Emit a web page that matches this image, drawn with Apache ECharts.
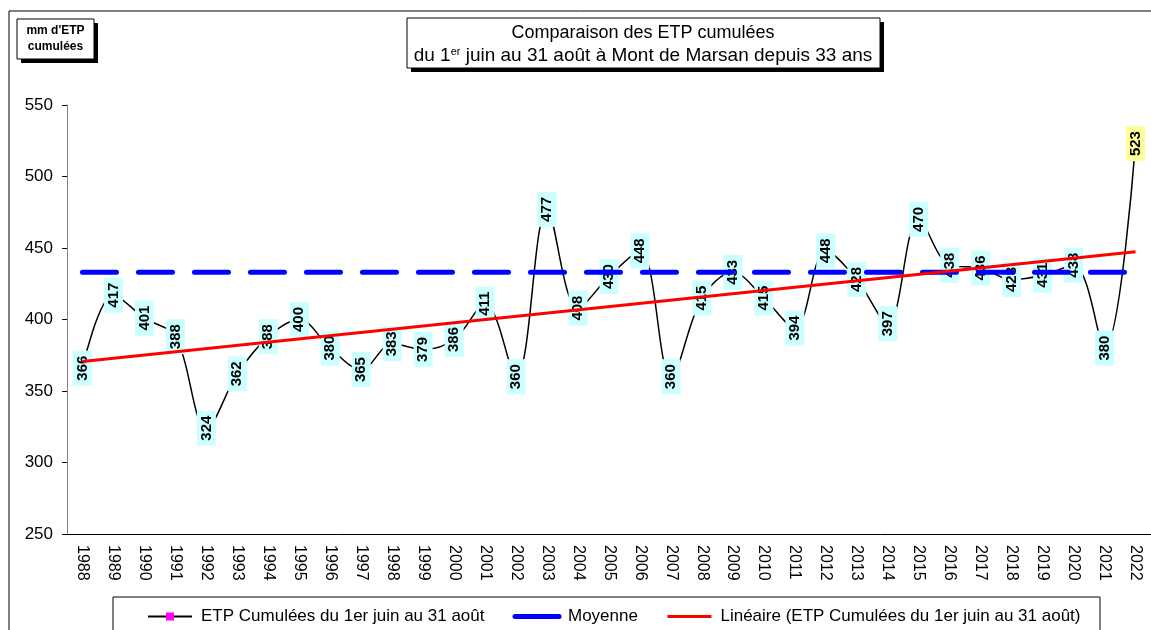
<!DOCTYPE html>
<html>
<head>
<meta charset="utf-8">
<script src="https://cdn.jsdelivr.net/npm/echarts@6/dist/echarts.min.js"></script>
<style>
  html, body { margin: 0; padding: 0; background: #fff; }
  #chart { width: 1151px; height: 630px; }
</style>
</head>
<body>
<div id="chart"></div>
<script>
// années
const years = ['1988','1989','1990','1991','1992','1993','1994','1995','1996','1997','1998','1999',
  '2000','2001','2002','2003','2004','2005','2006','2007','2008','2009','2010','2011',
  '2012','2013','2014','2015','2016','2017','2018','2019','2020','2021','2022'];
// ETP cumulées du 1er juin au 31 août (mm)
const etp = [366, 417, 401, 388, 324, 362, 388, 400, 380, 365, 383, 379,
  386, 411, 360, 477, 408, 430, 448, 360, 415, 433, 415, 394,
  448, 428, 397, 470, 438, 436, 428, 431, 438, 380, 523];
// moyenne (ligne bleue)
const moyenne = 433;
// extrémités de la droite de tendance
const lineaire = [[0, 370.7], [34, 447.4]];
const yTicks = [250, 300, 350, 400, 450, 500, 550];

const FONT = 'Liberation Sans, Arial, sans-serif';
const chart = echarts.init(document.getElementById('chart'));

const etpData = etp.map(function (v, i) {
  if (i === etp.length - 1) {
    return { value: v, label: { backgroundColor: '#ffff99' } };
  }
  return v;
});

// boite avec ombre portée : fond blanc ombré + contour sans ombre
function shadowBox(x, y, w, h) {
  return [
    { type: 'rect', shape: { x: x, y: y, width: w, height: h }, z: 10,
      style: { fill: '#fff', shadowColor: '#000', shadowOffsetX: 4, shadowOffsetY: 4, shadowBlur: 0 } },
    { type: 'rect', shape: { x: x, y: y, width: w, height: h }, z: 11,
      style: { fill: 'none', stroke: '#000', lineWidth: 1 } }
  ];
}

chart.setOption({
  backgroundColor: '#fff',
  animation: false,
  textStyle: { fontFamily: FONT },
  grid: { left: 67, top: 105, bottom: 96, width: 1094 },
  xAxis: {
    type: 'category',
    data: years,
    axisLine: { lineStyle: { color: '#000', width: 1 } },
    axisTick: { length: 5, lineStyle: { color: '#000' } },
    axisLabel: { rotate: -90, fontSize: 16, color: '#000', margin: 11, interval: 0 },
    splitLine: { show: false }
  },
  yAxis: {
    type: 'value',
    min: yTicks[0],
    max: yTicks[yTicks.length - 1],
    interval: 50,
    axisLine: { show: true, lineStyle: { color: '#808080', width: 1 } },
    axisTick: { show: true, length: 5, lineStyle: { color: '#000' } },
    axisLabel: { fontSize: 17, color: '#000', margin: 14 },
    splitLine: { show: false }
  },
  legend: {
    left: 142,
    top: 603,
    itemGap: 28,
    itemWidth: 44,
    itemHeight: 10,
    textStyle: { fontSize: 17, color: '#000', padding: [0, 0, 0, 4] },
    data: [
      { name: 'ETP Cumulées du 1er juin au 31 août' },
      { name: 'Moyenne', lineStyle: { type: 'solid', width: 5 }, itemStyle: { opacity: 0 } },
      { name: 'Linéaire (ETP Cumulées du 1er juin au 31 août)', lineStyle: { width: 3 }, itemStyle: { opacity: 0 } }
    ]
  },
  graphic: [
    // cadre extérieur
    { type: 'rect', shape: { x: 9, y: 11, width: 1300, height: 800 },
      style: { fill: 'none', stroke: '#000', lineWidth: 1 }, silent: true },
    // cadre du titre
    ...shadowBox(407, 18, 473, 50),
    { type: 'text', x: 643, y: 33, z: 12,
      style: { text: 'Comparaison des ETP cumulées', align: 'center', verticalAlign: 'middle',
        font: '18px ' + FONT, fill: '#000' } },
    { type: 'text', x: 643, y: 56, z: 12,
      style: {
        text: 'du 1{sup|er} juin au 31 août à Mont de Marsan depuis 33 ans',
        align: 'center', verticalAlign: 'middle',
        font: '19px ' + FONT, fill: '#000',
        rich: { sup: { fontSize: 11, verticalAlign: 'top', padding: [0, 0, 7, 0] } }
      } },
    // cadre de l'unité
    ...shadowBox(17, 19, 77, 40),
    { type: 'text', x: 55.5, y: 39, z: 12,
      style: { text: "mm d'ETP\ncumulées", align: 'center', verticalAlign: 'middle',
        font: 'bold 12px ' + FONT, fill: '#000', lineHeight: 16 } },
    // cadre de la légende
    { type: 'rect', shape: { x: 113, y: 597, width: 987, height: 60 },
      style: { fill: 'none', stroke: '#000', lineWidth: 1 }, z: 0 }
  ],
  series: [
    {
      name: 'ETP Cumulées du 1er juin au 31 août',
      type: 'line',
      data: etpData,
      smooth: 0.35,
      symbol: 'rect',
      symbolSize: 8,
      showSymbol: true,
      itemStyle: { color: '#ff00ff' },
      lineStyle: { color: '#000', width: 1.5 },
      z: 2,
      label: {
        show: true,
        position: 'inside',
        rotate: 90,
        fontSize: 15,
        fontWeight: 'bold',
        color: '#000',
        backgroundColor: '#ccffff',
        padding: [2, 5]
      }
    },
    {
      name: 'Moyenne',
      type: 'line',
      data: years.map(function () { return moyenne; }),
      symbol: 'none',
      lineStyle: { color: '#0000ff', width: 5, type: [34, 22], cap: 'round' },
      itemStyle: { color: '#0000ff' },
      z: 4
    },
    {
      name: 'Linéaire (ETP Cumulées du 1er juin au 31 août)',
      type: 'line',
      data: lineaire,
      symbol: 'none',
      lineStyle: { color: '#ff0000', width: 3 },
      itemStyle: { color: '#ff0000' },
      z: 5
    }
  ]
});
</script>
</body>
</html>
